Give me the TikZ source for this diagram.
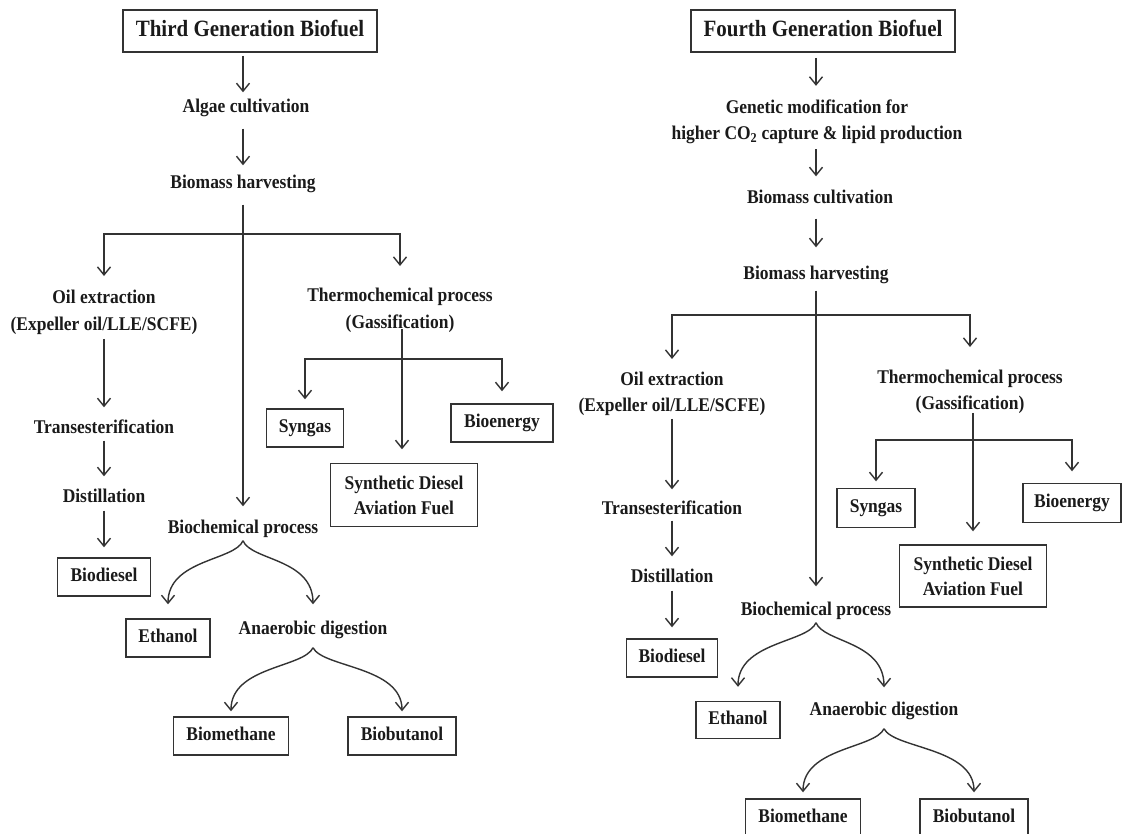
\documentclass[tikz,border=0pt]{standalone}
\usepackage{fontspec}
\setmainfont[FakeStretch=0.9]{Liberation Serif}
\usetikzlibrary{arrows.meta}
\definecolor{ink}{HTML}{1A1A1A}
\definecolor{linec}{HTML}{333333}
\begin{document}
\begin{tikzpicture}[x=1pt,y=-1pt,
  txt/.style={font=\bfseries\fontsize{19.4}{27}\selectfont, text=ink, inner sep=0pt, text height=13pt, text depth=4pt},
  txtm/.style={font=\bfseries\fontsize{19.4}{#1}\selectfont, text=ink, inner sep=0pt, align=center},
  bx/.style={draw=linec, line width=1.4pt, font=\bfseries\fontsize{19.4}{25}\selectfont, text=ink, inner sep=0pt, text height=13pt, text depth=4pt},
  bxm/.style={draw=linec, line width=1.4pt, font=\bfseries\fontsize{19.4}{25}\selectfont, text=ink, inner sep=0pt, align=center},
  ttl/.style={draw=linec, line width=1.8pt, font=\bfseries\fontsize{23.3}{27}\selectfont, text=ink, inner sep=0pt, minimum height=42pt, text height=15pt, text depth=4pt},
  arr/.style={draw=linec, line width=1.4pt, -{Straight Barb[length=8pt,width=13pt]}}
]
\useasboundingbox[fill=white] (0,0) rectangle (1122,834);

% ---------- Left panel ----------
\node[ttl, minimum width=254pt] (L0) at (250,31) {Third Generation Biofuel};
\node[txt] (L1) at (246,108) {Algae cultivation};
\node[txt] (L2) at (243,184) {Biomass harvesting};
\node[txtm=27] (L3) at (104,312) {Oil extraction\\(Expeller oil/LLE/SCFE)};
\node[txtm=27] (L4) at (400,310) {Thermochemical process\\(Gassification)};
\node[txt] (L5) at (104,429) {Transesterification};
\node[txt] (L6) at (104,498) {Distillation};
\node[bx, minimum width=93pt, minimum height=38pt] (L7) at (104,577) {Biodiesel};
\node[bx, minimum width=77pt, minimum height=38pt] (L8) at (305,428) {Syngas};
\node[bx, minimum width=102pt, minimum height=38pt] (L9) at (502,423) {Bioenergy};
\node[bxm, minimum width=147pt, minimum height=63pt] (L10) at (404,495) {Synthetic Diesel\\Aviation Fuel};
\node[txt] (L11) at (243,529) {Biochemical process};
\node[bx, minimum width=84pt, minimum height=38pt] (L12) at (168,638) {Ethanol};
\node[txt] (L13) at (313,630) {Anaerobic digestion};
\node[bx, minimum width=115pt, minimum height=38pt] (L14) at (231,736) {Biomethane};
\node[bx, minimum width=108pt, minimum height=38pt] (L15) at (402,736) {Biobutanol};
\coordinate (Lj) at (243,234);
\coordinate (Lk) at (402,359);

\draw[arr, shorten <=3pt, shorten >=7pt] (L0.south -| L2) -- (L1.north -| L2);
\draw[arr, shorten <=12pt, shorten >=10pt] (L1.south -| L2) -- (L2.north);
\draw[arr, shorten <=12pt, shorten >=14pt] (L2.south) -- (L11.north);
\draw[arr, shorten >=13.5pt] (Lj) -| (L3.north);
\draw[arr, shorten >=21.5pt] (Lj) -| (L4.north);
\draw[arr, shorten <=4.5pt, shorten >=13pt] (L3.south) -- (L5.north);
\draw[arr, shorten <=3pt, shorten >=13pt] (L5.south) -- (L6.north);
\draw[arr, shorten <=4pt, shorten >=10pt] (L6.south) -- (L7.north);
\draw[arr, shorten <=-3.5pt, shorten >=13.5pt] (L4.south -| Lk) -- (L10.north -| Lk);
\draw[arr, shorten >=9pt] (Lk) -| (L8.north);
\draw[arr, shorten >=12pt] (Lk) -| (L9.north);
\draw[arr] ([yshift=-3pt]L11.south) .. controls +(-8,20) and +(0,-45) .. ([yshift=14pt]L12.north);
\draw[arr] ([yshift=-3pt]L11.south) .. controls +(8,20) and +(0,-46) .. ([yshift=17pt]L13.north);
\draw[arr] ([yshift=-9pt]L13.south) .. controls +(-9,20) and +(0,-45) .. ([yshift=5pt]L14.north);
\draw[arr] ([yshift=-9pt]L13.south) .. controls +(10,20) and +(0,-45) .. ([yshift=5pt]L15.north);

% ---------- Right panel ----------
\node[ttl, minimum width=264pt] (R0) at (823,31) {Fourth Generation Biofuel};
\node[txtm=26] (R1) at (817,122) {Genetic modification for\\higher CO\textsubscript{2} capture \& lipid production};
\node[txt] (R2) at (820,199) {Biomass cultivation};
\node[txt] (R3) at (816,275) {Biomass harvesting};
\node[txtm=26] (R4) at (672,394) {Oil extraction\\(Expeller oil/LLE/SCFE)};
\node[txtm=26] (R5) at (970,392) {Thermochemical process\\(Gassification)};
\node[txt] (R6) at (672,510) {Transesterification};
\node[txt] (R7) at (672,578) {Distillation};
\node[bx, minimum width=91pt, minimum height=38pt] (R8) at (672,658) {Biodiesel};
\node[bx, minimum width=78pt, minimum height=39pt] (R9) at (876,508) {Syngas};
\node[bx, minimum width=98pt, minimum height=39pt] (R10) at (1072,503) {Bioenergy};
\node[bxm, minimum width=147pt, minimum height=62pt] (R11) at (973,576) {Synthetic Diesel\\Aviation Fuel};
\node[txt] (R12) at (816,611) {Biochemical process};
\node[bx, minimum width=84pt, minimum height=37pt] (R13) at (738,720) {Ethanol};
\node[txt] (R14) at (884,711) {Anaerobic digestion};
\node[bx, minimum width=115pt, minimum height=38pt] (R15) at (803,818) {Biomethane};
\node[bx, minimum width=108pt, minimum height=38pt] (R16) at (974,818) {Biobutanol};
\coordinate (Rj) at (816,315);
\coordinate (Rk) at (973,440);

\draw[arr, shorten <=5pt, shorten >=14pt] (R0.south -| R3) -- (R1.north -| R3);
\draw[arr, shorten <=5pt, shorten >=14pt] (R1.south -| R3) -- (R2.north -| R3);
\draw[arr, shorten <=11pt, shorten >=19pt] (R2.south -| R3) -- (R3.north);
\draw[arr, shorten <=7pt, shorten >=16pt] (R3.south) -- (R12.north);
\draw[arr, shorten >=13pt] (Rj) -| (R4.north);
\draw[arr, shorten >=23pt] (Rj) -| (R5.north);
\draw[arr, shorten <=3pt, shorten >=12pt] (R4.south) -- (R6.north);
\draw[arr, shorten <=2pt, shorten >=13pt] (R6.south) -- (R7.north);
\draw[arr, shorten <=4pt, shorten >=11pt] (R7.south) -- (R8.north);
\draw[arr, shorten <=-1pt, shorten >=13pt] (R5.south -| Rk) -- (R11.north -| Rk);
\draw[arr, shorten >=6.5pt] (Rk) -| (R9.north);
\draw[arr, shorten >=11.5pt] (Rk) -| (R10.north);
\draw[arr] ([yshift=-3pt]R12.south) .. controls +(-8,20) and +(0,-45) .. ([yshift=14pt]R13.north);
\draw[arr] ([yshift=-3pt]R12.south) .. controls +(8,20) and +(0,-46) .. ([yshift=15pt]R14.north);
\draw[arr] ([yshift=-9pt]R14.south) .. controls +(-9,20) and +(0,-45) .. ([yshift=6pt]R15.north);
\draw[arr] ([yshift=-9pt]R14.south) .. controls +(10,20) and +(0,-45) .. ([yshift=6pt]R16.north);
\end{tikzpicture}
\end{document}
